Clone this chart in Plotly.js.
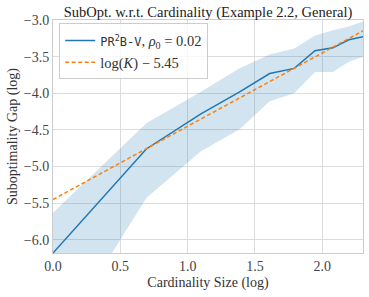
<!DOCTYPE html>
<html>
<head>
<meta charset="utf-8">
<script src="https://cdn.plot.ly/plotly-3.0.1.min.js"></script>
<style>html,body{margin:0;padding:0;background:#fff;}#chart{width:369px;height:297px;}</style>
</head>
<body>
<div id="chart"></div>
<script>
// Cardinality K = 1..10, x = log(K)
const cardinality = [1, 2, 3, 4, 5, 6, 7, 8, 9, 10];
const logK = cardinality.map(k => Math.log(k));
// Mean log suboptimality gap
const gapMean = [-6.18, -4.76, -4.28, -3.98, -3.73, -3.66, -3.42, -3.38, -3.27, -3.23];
// Band (log of mean +/- spread)
const gapUpper = [-5.63, -4.41, -3.98, -3.66, -3.47, -3.39, -3.21, -3.14, -3.09, -3.02];
const gapLower = [-7.47, -5.43, -4.79, -4.49, -4.11, -4.00, -3.71, -3.71, -3.57, -3.50];
// Reference line log(K) - 5.45
const refOffset = -5.45;
const refLine = logK.map(v => v + refOffset);

const xTicks = [0.0, 0.5, 1.0, 1.5, 2.0];
const yTicks = [-6.0, -5.5, -5.0, -4.5, -4.0, -3.5, -3.0];

const font = "Liberation Serif";
const blue = '#1f77b4';
const orange = '#ff7f0e';

const traces = [
  {x: logK, y: gapLower, mode: 'lines', line: {width: 0, color: blue}, showlegend: false, hoverinfo: 'skip'},
  {x: logK, y: gapUpper, mode: 'lines', line: {width: 0, color: blue}, fill: 'tonexty',
   fillcolor: 'rgba(31,119,180,0.2)', showlegend: false, hoverinfo: 'skip'},
  {x: logK, y: gapMean, mode: 'lines', line: {width: 1.5, color: blue},
   name: "<span style=\"font-family:DejaVu Sans Mono;font-size:12px\">PR<sup>2</sup>B-V</span>, <i>ρ</i><sub>0</sub> = 0.02"},
  {x: logK, y: refLine, mode: 'lines', line: {width: 1.5, color: orange, dash: '4px,2.5px'},
   name: 'log(<i>K</i>) − 5.45'}
];

const layout = {
  width: 369, height: 297,
  margin: {l: 53, r: 6, t: 20, b: 44},
  paper_bgcolor: '#fff', plot_bgcolor: '#fff',
  font: {family: font, size: 14, color: '#333'},
  title: {text: 'SubOpt. w.r.t. Cardinality (Example 2.2, General)', x: 0.5, xref: 'paper', y: 1, yref: 'paper', yanchor: 'bottom', pad: {b: 3}, font: {family: font, size: 14.5, color: '#222'}},
  xaxis: {range: [0, Math.log(10)], tickvals: xTicks, tickformat: '.1f', ticks: '', showgrid: true, gridcolor: '#dcdcdc', gridwidth: 1,
          zeroline: false, showline: true, mirror: true, linecolor: '#cccccc', linewidth: 1,
          title: {text: 'Cardinality Size (log)', standoff: 4, font: {family: font, size: 14, color: '#333'}},
          tickfont: {family: font, size: 14, color: '#444'}},
  yaxis: {range: [-6.18, -3.0], tickvals: yTicks, tickformat: '.1f', ticks: '', showgrid: true, gridcolor: '#dcdcdc', gridwidth: 1,
          zeroline: false, showline: true, mirror: true, linecolor: '#cccccc', linewidth: 1,
          title: {text: 'Suboptimality Gap (log)', standoff: 2, font: {family: font, size: 14, color: '#333'}},
          tickfont: {family: font, size: 14, color: '#444'}},
  legend: {x: 0.02, y: 0.985, xanchor: 'left', yanchor: 'top', bgcolor: 'rgba(255,255,255,0.8)', bordercolor: '#cccccc', borderwidth: 1,
           font: {family: font, size: 14.5, color: '#333'}, traceorder: 'normal', tracegroupgap: 0, itemwidth: 30},
  showlegend: true
};

Plotly.newPlot('chart', traces, layout, {displayModeBar: false, staticPlot: true});
</script>
</body>
</html>
